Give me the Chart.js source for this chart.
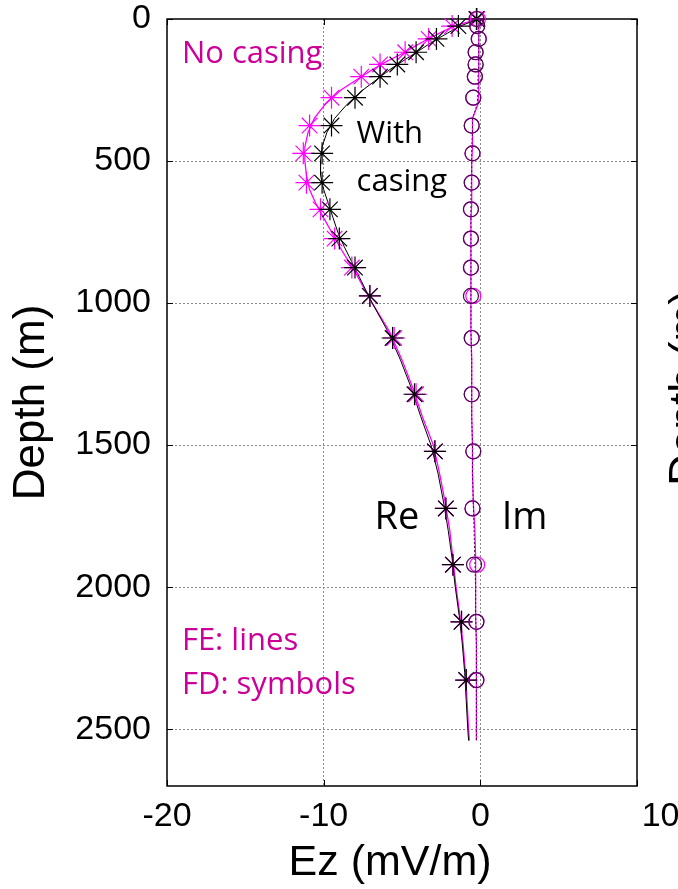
<!DOCTYPE html>
<html>
<head>
<meta charset="utf-8">
<title>Ez vs depth</title>
<script src="https://cdn.jsdelivr.net/npm/chart.js@4.4.1/dist/chart.umd.min.js"></script>
<style>
  html, body { margin: 0; padding: 0; background: #ffffff; }
  #wrap { width: 678px; height: 889px; position: relative; }
</style>
</head>
<body>
<div id="wrap"><canvas id="c" width="678" height="889"></canvas></div>
<script>
// ---- axis ticks ----
const ezTicks = [-20, -10, 0, 10];
const ezTickLabels = ['-20', '-10', '0', '10'];
const depthTicks = [0, 500, 1000, 1500, 2000, 2500];
const depthTickLabels = ['0', '500', '1000', '1500', '2000', '2500'];

// ---- FD solution (symbols) ----
const fdDepth = [0, 25, 70, 117, 160, 203, 277, 375, 473, 576, 670, 773, 875, 975, 1123, 1321, 1522, 1723, 1921, 2122, 2327];
const fdReNoCasing = [-0.2, -1.8, -3.3, -4.8, -6.4, -7.6, -9.5, -10.9, -11.3, -11.1, -10.2, -9.3, -8.2, -7.05, -5.5, -4.1, -2.9, -2.2, -1.75, -1.2, -0.9];
const fdReCasing   = [-0.25, -1.4, -2.8, -4.1, -5.3, -6.4, -8.0, -9.5, -10.1, -10.1, -9.6, -9.0, -8.0, -7.05, -5.6, -4.2, -2.9, -2.2, -1.75, -1.2, -0.9];
const fdImNoCasing = [-0.15, -0.2, -0.1, -0.3, -0.3, -0.35, -0.45, -0.55, -0.5, -0.55, -0.6, -0.6, -0.6, -0.45, -0.55, -0.55, -0.45, -0.5, -0.2, -0.25, -0.25];
const fdImCasing   = [-0.25, -0.2, -0.1, -0.3, -0.3, -0.35, -0.45, -0.55, -0.5, -0.55, -0.6, -0.6, -0.6, -0.6, -0.55, -0.55, -0.45, -0.5, -0.4, -0.25, -0.25];

// ---- FE solution (lines) ----
const feDepth = [0, 25, 50, 75, 100, 125, 150, 175, 200, 250, 300, 350, 400, 450, 500, 550, 600, 650, 700, 750, 800, 900, 1000, 1100, 1200, 1300, 1400, 1500, 1600, 1700, 1800, 1900, 2000, 2100, 2200, 2300, 2400, 2500, 2540];
const feReNoCasing = [-0.1, -1.7, -2.6, -3.5, -4.3, -5.1, -6.0, -6.8, -7.5, -8.9, -9.9, -10.6, -11.0, -11.2, -11.2, -11.1, -10.9, -10.5, -10.0, -9.5, -9.0, -7.9, -6.9, -5.8, -5.0, -4.3, -3.7, -3.0, -2.6, -2.25, -1.95, -1.75, -1.55, -1.3, -1.1, -0.95, -0.85, -0.75, -0.7];
const feReCasing   = [-0.1, -1.3, -2.1, -2.9, -3.6, -4.3, -5.0, -5.7, -6.3, -7.5, -8.5, -9.3, -9.8, -10.1, -10.2, -10.2, -10.0, -9.7, -9.4, -9.1, -8.7, -7.8, -6.9, -5.9, -5.1, -4.4, -3.8, -3.15, -2.7, -2.35, -2.05, -1.8, -1.6, -1.35, -1.15, -1.0, -0.9, -0.8, -0.75];
const feImNoCasing = [-0.05, -0.1, -0.1, -0.1, -0.1, -0.1, -0.1, -0.1, -0.1, -0.1, -0.15, -0.5, -0.5, -0.5, -0.55, -0.55, -0.55, -0.55, -0.6, -0.6, -0.6, -0.6, -0.6, -0.6, -0.55, -0.55, -0.55, -0.5, -0.5, -0.45, -0.35, -0.3, -0.3, -0.3, -0.25, -0.25, -0.25, -0.25, -0.25];
const feImCasing   = [-0.05, -0.1, -0.1, -0.1, -0.1, -0.1, -0.1, -0.1, -0.15, -0.15, -0.2, -0.5, -0.5, -0.55, -0.55, -0.55, -0.6, -0.6, -0.6, -0.6, -0.6, -0.6, -0.6, -0.6, -0.55, -0.55, -0.55, -0.5, -0.5, -0.45, -0.4, -0.35, -0.3, -0.3, -0.25, -0.25, -0.25, -0.25, -0.25];

// ---- styling ----
const AXIS_FONT = "'Liberation Sans', Arial, Helvetica, sans-serif";
const NOTE_FONT = "'Open Sans', 'Noto Sans', sans-serif";
const MAGENTA = '#FF00FF';
const NOTE_MAGENTA = '#CC0099';
const PURPLE = '#4A0A50';
const GRID = '#8a8a8a';
const CLEAR = 'rgba(0,0,0,0)';

// Text notes placed in data coordinates (x = Ez, y = depth of the baseline)
const notes = [
  { text: 'No casing',   x: -19.05, y: 155,  color: NOTE_MAGENTA, size: 31 },
  { text: 'With',        x: -7.9,   y: 438,  color: '#000000',    size: 31 },
  { text: 'casing',      x: -7.9,   y: 604,  color: '#000000',    size: 31 },
  { text: 'Re',          x: -6.75,  y: 1797, color: '#000000',    size: 38 },
  { text: 'Im',          x: 1.36,   y: 1797, color: '#000000',    size: 38 },
  { text: 'FE: lines',   x: -19.05, y: 2221, color: NOTE_MAGENTA, size: 31 },
  { text: 'FD: symbols', x: -19.05, y: 2376, color: NOTE_MAGENTA, size: 31 }
];

function pts(xs, ds) { return ds.map((d, i) => ({ x: xs[i], y: d })); }

function lineSet(label, xs, color, width, dash, order) {
  return { label, data: pts(xs, feDepth), showLine: true, borderColor: color,
           borderWidth: width, borderDash: dash, pointRadius: 0, fill: false, order };
}
function symbolSet(label, xs, style, color, radius, order) {
  return { label, data: pts(xs, fdDepth), showLine: false, pointStyle: style,
           pointRadius: radius, pointBorderColor: color, pointBackgroundColor: CLEAR,
           pointBorderWidth: 1.2, borderColor: color, backgroundColor: CLEAR, clip: false, order };
}

// Plot frame with inward tick marks
const framePlugin = {
  id: 'frame',
  beforeDatasetsDraw(chart) {
    const { ctx, chartArea: a, scales: { x, y } } = chart;
    ctx.save();
    ctx.strokeStyle = '#000';
    ctx.lineWidth = 1.5;
    ctx.strokeRect(a.left, a.top, a.right - a.left, a.bottom - a.top);
    ctx.lineWidth = 1;
    ctx.beginPath();
    x.ticks.forEach(t => {
      const px = Math.round(x.getPixelForValue(t.value)) + 0.5;
      ctx.moveTo(px, a.bottom); ctx.lineTo(px, a.bottom - 6);
      ctx.moveTo(px, a.top); ctx.lineTo(px, a.top + 6);
    });
    y.ticks.forEach(t => {
      const py = Math.round(y.getPixelForValue(t.value)) + 0.5;
      ctx.moveTo(a.left, py); ctx.lineTo(a.left + 6, py);
      ctx.moveTo(a.right, py); ctx.lineTo(a.right - 6, py);
    });
    ctx.stroke();
    ctx.restore();
  },
  afterDraw(chart) {
    const { ctx, scales: { x, y } } = chart;
    ctx.save();
    ctx.textAlign = 'left';
    ctx.textBaseline = 'alphabetic';
    notes.forEach(n => {
      ctx.font = `${n.size}px ${NOTE_FONT}`;
      ctx.fillStyle = n.color;
      ctx.fillText(n.text, x.getPixelForValue(n.x), y.getPixelForValue(n.y));
    });
    // axis title of the neighbouring panel, running off the right edge
    ctx.translate(688, 388);
    ctx.rotate(-Math.PI / 2);
    ctx.font = `44px ${AXIS_FONT}`;
    ctx.fillStyle = '#000';
    ctx.textAlign = 'center';
    ctx.textBaseline = 'middle';
    ctx.fillText('Depth (m)', 0, 0);
    ctx.restore();
  }
};

new Chart(document.getElementById('c'), {
  type: 'scatter',
  data: {
    datasets: [
      lineSet('FE Re, no casing', feReNoCasing, MAGENTA, 1.3, [], 9),
      lineSet('FE Re, with casing', feReCasing, '#000000', 1, [], 8),
      lineSet('FE Im, no casing', feImNoCasing, MAGENTA, 1.3, [], 7),
      lineSet('FE Im, with casing', feImCasing, PURPLE, 1, [2, 2], 6),
      symbolSet('FD Re, no casing', fdReNoCasing, 'star', MAGENTA, 11, 3),
      symbolSet('FD Re, with casing', fdReCasing, 'star', '#000000', 11, 2),
      symbolSet('FD Im, no casing', fdImNoCasing, 'circle', MAGENTA, 7.5, 1),
      symbolSet('FD Im, with casing', fdImCasing, 'circle', PURPLE, 7.5, 0)
    ]
  },
  options: {
    responsive: false,
    animation: false,
    devicePixelRatio: 1,
    layout: { padding: { left: 0, right: 41, top: 19, bottom: 0 } },
    plugins: { legend: { display: false }, tooltip: { enabled: false } },
    scales: {
      x: {
        type: 'linear', min: -20, max: 10,
        afterBuildTicks: s => { s.ticks = ezTicks.map(v => ({ value: v })); },
        afterFit: s => { s.height = 103; s.paddingLeft = 0; s.paddingRight = 0; },
        ticks: {
          font: { family: AXIS_FONT, size: 34, lineHeight: 1.1 }, color: '#000',
          padding: 12, maxRotation: 0, minRotation: 0, autoSkip: false,
          callback: (v) => {
            const i = ezTicks.indexOf(v);
            const lbl = i >= 0 ? ezTickLabels[i] : String(v);
            return i === ezTicks.length - 1 ? '     ' + lbl : lbl;
          }
        },
        grid: {
          color: c => (c.tick && (c.tick.value === -20 || c.tick.value === 10)) ? CLEAR : GRID,
          lineWidth: 1, drawTicks: false
        },
        border: { display: false, dash: [2, 2] },
        title: { display: true, text: 'Ez (mV/m)  ', color: '#000',
                 font: { family: AXIS_FONT, size: 43 }, padding: { top: 0, bottom: 0 } }
      },
      y: {
        type: 'linear', reverse: true, min: 0, max: 2700,
        afterBuildTicks: s => { s.ticks = depthTicks.map(v => ({ value: v })); },
        afterFit: s => { s.width = 167; s.paddingTop = 0; s.paddingBottom = 0; },
        ticks: {
          font: { family: AXIS_FONT, size: 34, lineHeight: 1.1 }, color: '#000', padding: 16,
          callback: (v) => {
            const i = depthTicks.indexOf(v);
            return i >= 0 ? depthTickLabels[i] : String(v);
          }
        },
        grid: {
          color: c => (c.tick && c.tick.value === 0) ? CLEAR : GRID,
          lineWidth: 1, drawTicks: false
        },
        border: { display: false, dash: [2, 2] },
        title: { display: true, text: 'Depth (m)', color: '#000',
                 font: { family: AXIS_FONT, size: 44 }, padding: { top: 5, bottom: 0 } }
      }
    }
  },
  plugins: [framePlugin]
});
</script>
</body>
</html>
